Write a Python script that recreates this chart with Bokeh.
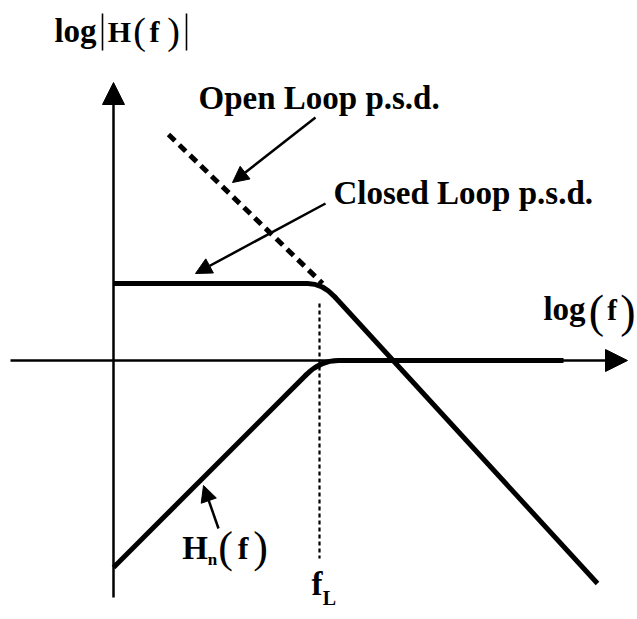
import math

from bokeh.core.properties import value
from bokeh.embed import file_html
from bokeh.models import Arrow, NormalHead, Range1d
from bokeh.plotting import figure
from bokeh.resources import INLINE

# Asymptotic Bode sketch, in drawing units: x = log f, y = log|H(f)|
f_L = 206                      # loop corner frequency
closed_f = [0, 209, 484]       # closed-loop p.s.d.: flat, then roll-off
closed_H = [77, 77, -223]
open_f = [55, 209]             # open-loop p.s.d. (dashed)
open_H = [226, 77]
hn_f = [0, 207, 450]           # noise transfer H_n(f): rise, then flat
hn_H = [-207, 0, 0]

FONT = value("Liberation Serif")

p = figure(width=637, height=619,
           x_range=Range1d(-113, 524), y_range=Range1d(-259, 360),
           x_axis_type=None, y_axis_type=None,
           output_backend="svg", toolbar_location=None, min_border=0)
p.outline_line_color = None
p.background_fill_color = "white"


def rounded(fx, fy, trim_in, trim_out, width, **kw):
    """Polyline with one rounded corner at its middle vertex."""
    ax, ay = fx[0], fy[0]
    bx, by = fx[1], fy[1]
    cx, cy = fx[2], fy[2]
    d1 = math.hypot(bx - ax, by - ay)
    d2 = math.hypot(cx - bx, cy - by)
    sx, sy = bx - (bx - ax) * trim_in / d1, by - (by - ay) * trim_in / d1
    ex, ey = bx + (cx - bx) * trim_out / d2, by + (cy - by) * trim_out / d2
    p.line([ax, sx], [ay, sy], line_width=width, line_color="black", **kw)
    p.quadratic(x0=[sx], y0=[sy], x1=[ex], y1=[ey], cx=[bx], cy=[by],
                line_width=width, line_color="black", line_cap="round")
    p.line([ex, cx], [ey, cy], line_width=width, line_color="black", **kw)


# axes with arrow heads
p.add_layout(Arrow(x_start=0, y_start=-237, x_end=0, y_end=278,
                   line_width=2.5, line_color="black",
                   end=NormalHead(size=22, fill_color="black", line_color="black")))
p.add_layout(Arrow(x_start=-103, y_start=0, x_end=514, y_end=0,
                   line_width=2.5, line_color="black",
                   end=NormalHead(size=22, fill_color="black", line_color="black")))

# curves
p.line(open_f, open_H, line_width=5, line_color="black", line_dash="9 6")
rounded(closed_f, closed_H, 15, 18, 5)
rounded(hn_f, hn_H, 20, 18, 5)

# corner frequency marker
p.line([f_L, f_L], [57, -198], line_width=2.2, line_color="black", line_dash="4 3")

# pointer arrows
for xs, ys, xe, ye in [(202, 243, 119, 178), (212, 157, 82, 87), (105, -168, 90, -125)]:
    p.add_layout(Arrow(x_start=xs, y_start=ys, x_end=xe, y_end=ye,
                       line_width=2.5, line_color="black",
                       end=NormalHead(size=16, fill_color="black", line_color="black")))


def label(x, y, t, size, bold=True, align="center"):
    # the glyph box sits a little low for an alphabetic baseline; lift it
    p.text(x=[x], y=[y + 0.3 * size], text=[t], text_font=FONT,
           text_font_style="bold" if bold else "normal",
           text_font_size=f"{size}px", text_align=align,
           text_baseline="alphabetic", text_color="black")


label(85, 253, "Open Loop p.s.d.", 33, align="left")
label(220, 158, "Closed Loop p.s.d.", 33, align="left")

# log|H(f)|
label(-38, 320, "log", 33)
p.segment(x0=[-11, 73], y0=[310, 310], x1=[-11, 73], y1=[347, 347],
          line_width=1.6, line_color="black")
label(6, 320, "H", 30)
label(26, 318, "(", 38, bold=False)
label(41, 320, "f", 30)
label(60, 318, ")", 38, bold=False)

# log(f)
label(451, 42, "log", 33)
label(483, 35, "(", 46, bold=False)
label(498.5, 42, "f", 29)
label(514.5, 35, ")", 46, bold=False)

# H_n(f)
label(81.5, -197, "H", 33)
label(99, -204, "n", 17)
label(112, -200, "(", 44, bold=False)
label(129.5, -197, "f", 32)
label(147, -200, ")", 44, bold=False)

# f_L
label(203.5, -233, "f", 33)
label(216, -243, "L", 20)

open("out.html", "w").write(file_html(p, INLINE))
